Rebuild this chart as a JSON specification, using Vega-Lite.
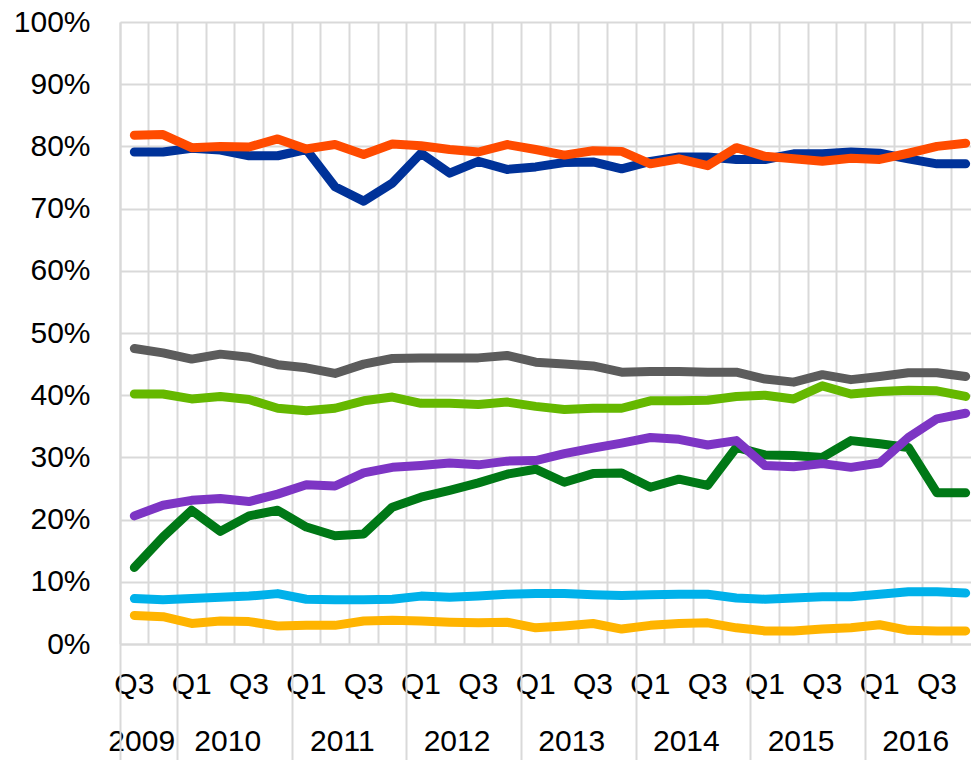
{
  "$schema": "https://vega.github.io/schema/vega-lite/v6.json",
  "width": 851,
  "height": 622,
  "autosize": {"type": "none"},
  "padding": {"left": 120, "top": 22, "right": 0, "bottom": 116},
  "background": "white",
  "config": {"view": {"stroke": null}},
  "data": {
    "values": [
      {"q": "2009 Q3", "a": 79.1, "b": 81.8, "c": 47.5, "d": 40.2, "e": 12.3, "f": 20.6, "g": 7.3, "h": 4.6},
      {"q": "2009 Q4", "a": 79.1, "b": 81.9, "c": 46.8, "d": 40.2, "e": 17.2, "f": 22.3, "g": 7.1, "h": 4.4},
      {"q": "2010 Q1", "a": 79.7, "b": 79.8, "c": 45.8, "d": 39.4, "e": 21.5, "f": 23.1, "g": 7.3, "h": 3.3},
      {"q": "2010 Q2", "a": 79.4, "b": 80.0, "c": 46.6, "d": 39.8, "e": 18.1, "f": 23.4, "g": 7.5, "h": 3.7},
      {"q": "2010 Q3", "a": 78.5, "b": 79.9, "c": 46.1, "d": 39.3, "e": 20.6, "f": 22.9, "g": 7.7, "h": 3.6},
      {"q": "2010 Q4", "a": 78.5, "b": 81.2, "c": 44.9, "d": 37.9, "e": 21.5, "f": 24.1, "g": 8.1, "h": 2.9},
      {"q": "2011 Q1", "a": 79.5, "b": 79.6, "c": 44.4, "d": 37.5, "e": 18.8, "f": 25.6, "g": 7.2, "h": 3.0},
      {"q": "2011 Q2", "a": 73.5, "b": 80.3, "c": 43.5, "d": 37.9, "e": 17.4, "f": 25.4, "g": 7.1, "h": 3.0},
      {"q": "2011 Q3", "a": 71.2, "b": 78.7, "c": 45.0, "d": 39.1, "e": 17.7, "f": 27.5, "g": 7.1, "h": 3.7},
      {"q": "2011 Q4", "a": 74.1, "b": 80.4, "c": 45.9, "d": 39.7, "e": 22.0, "f": 28.4, "g": 7.2, "h": 3.8},
      {"q": "2012 Q1", "a": 78.9, "b": 80.1, "c": 46.0, "d": 38.7, "e": 23.6, "f": 28.7, "g": 7.7, "h": 3.7},
      {"q": "2012 Q2", "a": 75.7, "b": 79.5, "c": 46.0, "d": 38.7, "e": 24.7, "f": 29.1, "g": 7.5, "h": 3.5},
      {"q": "2012 Q3", "a": 77.6, "b": 79.1, "c": 46.0, "d": 38.5, "e": 25.9, "f": 28.8, "g": 7.7, "h": 3.4},
      {"q": "2012 Q4", "a": 76.3, "b": 80.3, "c": 46.4, "d": 38.9, "e": 27.3, "f": 29.4, "g": 8.0, "h": 3.5},
      {"q": "2013 Q1", "a": 76.7, "b": 79.5, "c": 45.3, "d": 38.2, "e": 28.1, "f": 29.5, "g": 8.1, "h": 2.6},
      {"q": "2013 Q2", "a": 77.4, "b": 78.6, "c": 45.0, "d": 37.7, "e": 26.0, "f": 30.6, "g": 8.1, "h": 2.9},
      {"q": "2013 Q3", "a": 77.5, "b": 79.3, "c": 44.7, "d": 37.9, "e": 27.4, "f": 31.5, "g": 7.9, "h": 3.3},
      {"q": "2013 Q4", "a": 76.4, "b": 79.2, "c": 43.7, "d": 37.9, "e": 27.5, "f": 32.3, "g": 7.8, "h": 2.4},
      {"q": "2014 Q1", "a": 77.6, "b": 77.2, "c": 43.8, "d": 39.1, "e": 25.2, "f": 33.2, "g": 7.9, "h": 3.0},
      {"q": "2014 Q2", "a": 78.3, "b": 78.0, "c": 43.8, "d": 39.1, "e": 26.5, "f": 32.9, "g": 8.0, "h": 3.3},
      {"q": "2014 Q3", "a": 78.3, "b": 76.9, "c": 43.7, "d": 39.2, "e": 25.5, "f": 32.0, "g": 8.0, "h": 3.4},
      {"q": "2014 Q4", "a": 77.9, "b": 79.8, "c": 43.7, "d": 39.8, "e": 31.6, "f": 32.7, "g": 7.4, "h": 2.6},
      {"q": "2015 Q1", "a": 77.9, "b": 78.4, "c": 42.6, "d": 40.0, "e": 30.4, "f": 28.7, "g": 7.2, "h": 2.1},
      {"q": "2015 Q2", "a": 78.8, "b": 78.0, "c": 42.1, "d": 39.4, "e": 30.3, "f": 28.5, "g": 7.4, "h": 2.1},
      {"q": "2015 Q3", "a": 78.8, "b": 77.6, "c": 43.3, "d": 41.5, "e": 30.0, "f": 29.0, "g": 7.6, "h": 2.4},
      {"q": "2015 Q4", "a": 79.1, "b": 78.1, "c": 42.5, "d": 40.2, "e": 32.7, "f": 28.4, "g": 7.6, "h": 2.6},
      {"q": "2016 Q1", "a": 78.9, "b": 77.9, "c": 43.0, "d": 40.6, "e": 32.2, "f": 29.1, "g": 8.0, "h": 3.1},
      {"q": "2016 Q2", "a": 78.0, "b": 78.9, "c": 43.6, "d": 40.8, "e": 31.6, "f": 33.2, "g": 8.4, "h": 2.2},
      {"q": "2016 Q3", "a": 77.2, "b": 80.0, "c": 43.6, "d": 40.7, "e": 24.3, "f": 36.2, "g": 8.4, "h": 2.1},
      {"q": "2016 Q4", "a": 77.2, "b": 80.5, "c": 43.0, "d": 39.8, "e": 24.3, "f": 37.1, "g": 8.2, "h": 2.1}
    ]
  },
  "transform": [{"fold": ["a", "b", "c", "d", "e", "f", "g", "h"], "as": ["s", "v"]}],
  "layer": [
    {
      "mark": {"type": "line", "strokeWidth": 9, "strokeCap": "round", "strokeJoin": "round"},
      "encoding": {
        "x": {
          "field": "q", "type": "ordinal", "sort": null,
          "scale": {"range": [0, 860], "paddingInner": 0, "paddingOuter": 0},
          "axis": {
            "orient": "bottom", "bandPosition": 0, "title": null,
            "grid": true, "gridColor": "#d9d9d9", "gridWidth": 2,
            "ticks": false, "tickSize": 0,
            "domain": true, "domainColor": "#d9d9d9", "domainWidth": 2,
            "labelExpr": "test(/Q[13]/, datum.value) ? slice(datum.value, 5) : ''",
            "labelOffset": 0, "labelPadding": 25, "labelAngle": 0,
            "labelAlign": "center", "labelBaseline": "top", "labelOverlap": false,
            "labelFont": "Liberation Sans", "labelFontSize": 30, "labelColor": "#000000"
          }
        },
        "y": {
          "field": "v", "type": "quantitative",
          "scale": {"domain": [0, 100], "nice": false, "zero": true},
          "axis": {
            "title": null, "values": [0, 10, 20, 30, 40, 50, 60, 70, 80, 90, 100],
            "labelExpr": "datum.value + '%'",
            "grid": true, "gridColor": "#d9d9d9", "gridWidth": 2,
            "ticks": false, "tickSize": 0,
            "domain": true, "domainColor": "#d9d9d9", "domainWidth": 2,
            "labelPadding": 30, "labelFont": "Liberation Sans", "labelFontSize": 30, "labelColor": "#000000"
          }
        },
        "color": {
          "field": "s", "type": "nominal", "legend": null,
          "scale": {
            "domain": ["a", "b", "c", "d", "e", "f", "g", "h"],
            "range": ["#003299", "#FF4B00", "#5C5C5C", "#65B800", "#007816", "#7D35C4", "#00B1EA", "#FFB400"]
          }
        }
      }
    },
    {
      "mark": {"type": "rule", "opacity": 0},
      "encoding": {
        "x": {
          "field": "q", "type": "ordinal", "sort": null,
          "axis": {
            "orient": "bottom", "bandPosition": 0, "title": null,
            "grid": false, "ticks": false, "tickSize": 0, "domain": false,
            "values": ["2009 Q4", "2010 Q3", "2011 Q3", "2012 Q3", "2013 Q3", "2014 Q3", "2015 Q3", "2016 Q3"],
            "labelExpr": "slice(datum.value, 0, 4)",
            "labelOffset": -21.3, "labelPadding": 82, "labelAngle": 0,
            "labelAlign": "center", "labelBaseline": "top", "labelOverlap": false,
            "labelFont": "Liberation Sans", "labelFontSize": 30, "labelColor": "#000000"
          }
        }
      }
    },
    {
      "mark": {"type": "rule", "opacity": 0},
      "encoding": {
        "x": {
          "field": "q", "type": "ordinal", "sort": null,
          "axis": {
            "orient": "bottom", "bandPosition": 0, "title": null,
            "grid": false, "domain": false, "labels": false,
            "ticks": true, "tickSize": 116, "tickColor": "#d9d9d9", "tickWidth": 2,
            "values": ["2009 Q3", "2010 Q1", "2011 Q1", "2012 Q1", "2013 Q1", "2014 Q1", "2015 Q1", "2016 Q1"]
          }
        }
      }
    }
  ],
  "resolve": {"axis": {"x": "independent"}}
}
